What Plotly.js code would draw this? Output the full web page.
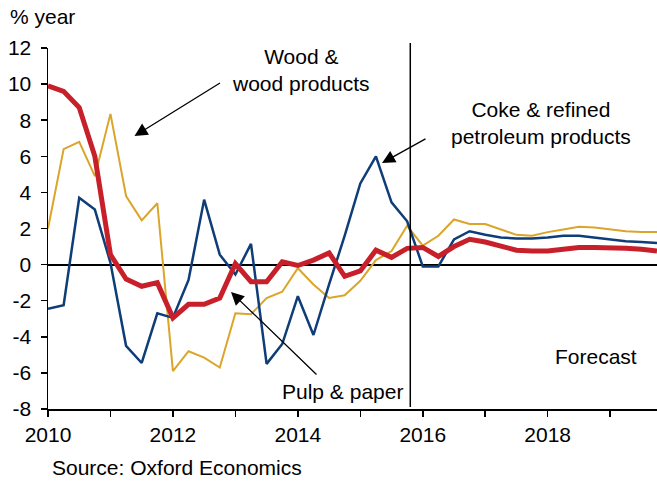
<!DOCTYPE html>
<html>
<head>
<meta charset="utf-8">
<script src="https://cdn.plot.ly/plotly-3.0.1.min.js"></script>
<style>html,body{margin:0;padding:0;background:#fff;}#chart{width:657px;height:482px;}</style>
</head>
<body>
<div id="chart"></div>
<script>
// Quarterly dates 2010Q1 .. 2019Q4 (as decimal years)
const quarters = [
  2010.00,2010.25,2010.50,2010.75,2011.00,2011.25,2011.50,2011.75,
  2012.00,2012.25,2012.50,2012.75,2013.00,2013.25,2013.50,2013.75,
  2014.00,2014.25,2014.50,2014.75,2015.00,2015.25,2015.50,2015.75,
  2016.00,2016.25,2016.50,2016.75,2017.00,2017.25,2017.50,2017.75,
  2018.00,2018.25,2018.50,2018.75,2019.00,2019.25,2019.50,2019.75
];

// % year growth
const pulpPaper = [
  9.9, 9.6, 8.7, 6.0, 0.55, -0.8, -1.2, -1.0,
  -2.95, -2.2, -2.2, -1.85, 0.05, -0.95, -0.95, 0.15,
  -0.05, 0.25, 0.65, -0.65, -0.35, 0.8, 0.4, 0.9,
  0.95, 0.45, 1.0, 1.4, 1.25, 1.0, 0.8, 0.75,
  0.75, 0.85, 0.95, 0.95, 0.95, 0.9, 0.85, 0.75
];
const woodProducts = [
  2.0, 6.4, 6.8, 4.9, 8.35, 3.8, 2.45, 3.4,
  -5.9, -4.8, -5.15, -5.7, -2.7, -2.75, -1.85, -1.5,
  -0.2, -1.1, -1.85, -1.7, -0.9, 0.25, 0.75, 2.15,
  1.05, 1.6, 2.5, 2.25, 2.25, 1.95, 1.65, 1.6,
  1.8, 1.95, 2.1, 2.05, 1.95, 1.85, 1.8, 1.8
];
const cokePetroleum = [
  -2.45, -2.25, 3.7, 3.05, 0.1, -4.5, -5.45, -2.7,
  -2.95, -0.85, 3.6, 0.55, -0.55, 1.15, -5.5, -4.4,
  -1.75, -3.9, -1.1, 1.6, 4.5, 6.0, 3.45, 2.4,
  -0.1, -0.1, 1.4, 1.85, 1.65, 1.5, 1.45, 1.45,
  1.5, 1.6, 1.6, 1.5, 1.4, 1.3, 1.25, 1.2
];

const yearTicks = [2010,2011,2012,2013,2014,2015,2016,2017,2018,2019];
const yearLabels = ['2010','','2012','','2014','','2016','','2018',''];
const yTicks = [-8,-6,-4,-2,0,2,4,6,8,10,12];
const yLabels = ['-8','-6','-4','-2','0','2','4','6','8','10','12'];
const forecastStart = 2015.8;

const FONT = 'Liberation Sans, Arial, sans-serif';
const FS = 21;

const traces = [
  {x: quarters, y: woodProducts, type: 'scatter', mode: 'lines', name: 'Wood & wood products',
   line: {color: '#DAA52A', width: 2}},
  {x: quarters, y: cokePetroleum, type: 'scatter', mode: 'lines', name: 'Coke & refined petroleum products',
   line: {color: '#0E3D78', width: 2.5}},
  {x: quarters, y: pulpPaper, type: 'scatter', mode: 'lines', name: 'Pulp & paper',
   line: {color: '#C8202B', width: 5}}
];

// pixel helpers for layout-only placements (plot area: x 48..657, y 48..409)
const L = 48, T = 48, W = 609, H = 361;
const px = p => (p - L) / W;
const py = p => (T + H - p) / H;

const txt = {family: FONT, size: FS, color: '#000'};

const layout = {
  width: 657, height: 482,
  margin: {l: L, r: 0, t: T, b: 482 - T - H, pad: 0},
  paper_bgcolor: '#fff', plot_bgcolor: '#fff',
  showlegend: false,
  font: txt,
  xaxis: {
    range: [2010, 2019.75], showgrid: false, zeroline: false,
    showline: true, linecolor: '#000', linewidth: 1.5,
    ticks: 'outside', ticklen: 6, tickwidth: 1.5, tickcolor: '#000',
    tickmode: 'array', tickvals: yearTicks, ticktext: yearLabels,
    tickfont: txt
  },
  yaxis: {
    range: [-8, 12], showgrid: false,
    tickmode: 'array', tickvals: yTicks, ticktext: yLabels,
    zeroline: true, zerolinecolor: '#000', zerolinewidth: 2,
    showline: true, linecolor: '#000', linewidth: 1.5,
    ticks: 'outside', ticklen: 6, tickwidth: 1.5, tickcolor: '#000',
    ticklabelstandoff: 5,
    tickfont: txt
  },
  shapes: [
    {type: 'line', xref: 'x', yref: 'paper', x0: forecastStart, x1: forecastStart,
     y0: py(407), y1: py(43), line: {color: '#000', width: 1.5}}
  ],
  annotations: [
    {xref: 'paper', yref: 'paper', x: px(8), y: py(17), xanchor: 'left', yanchor: 'middle',
     text: '% year', showarrow: false, font: txt},
    {xref: 'paper', yref: 'paper', x: px(50), y: py(467), xanchor: 'left', yanchor: 'middle',
     text: 'Source: Oxford Economics', showarrow: false, font: txt},
    {xref: 'paper', yref: 'paper', x: px(301), y: py(69.5), xanchor: 'center', yanchor: 'middle',
     align: 'center', text: 'Wood &<br>wood products', showarrow: false, font: txt},
    {xref: 'paper', yref: 'paper', x: px(541), y: py(122.5), xanchor: 'center', yanchor: 'middle',
     align: 'center', text: 'Coke & refined<br>petroleum products', showarrow: false, font: txt},
    {xref: 'paper', yref: 'paper', x: px(342), y: py(391.5), xanchor: 'center', yanchor: 'middle',
     text: 'Pulp & paper', showarrow: false, font: txt},
    {xref: 'paper', yref: 'paper', x: px(596), y: py(356.5), xanchor: 'center', yanchor: 'middle',
     text: 'Forecast', showarrow: false, font: txt},
    // arrows
    {xref: 'paper', yref: 'paper', x: px(134.5), y: py(136), ax: 87, ay: -54, text: '',
     showarrow: true, arrowhead: 2, arrowsize: 2, arrowwidth: 1.3, arrowcolor: '#000', standoff: 0},
    {xref: 'paper', yref: 'paper', x: px(382), y: py(163), ax: 45, ay: -25, text: '',
     showarrow: true, arrowhead: 2, arrowsize: 2, arrowwidth: 1.3, arrowcolor: '#000', standoff: 0},
    {xref: 'paper', yref: 'paper', x: px(231), y: py(292), ax: 87, ay: 84, text: '',
     showarrow: true, arrowhead: 2, arrowsize: 2, arrowwidth: 1.3, arrowcolor: '#000', standoff: 0}
  ]
};

Plotly.newPlot('chart', traces, layout, {displayModeBar: false, staticPlot: true});
</script>
</body>
</html>
